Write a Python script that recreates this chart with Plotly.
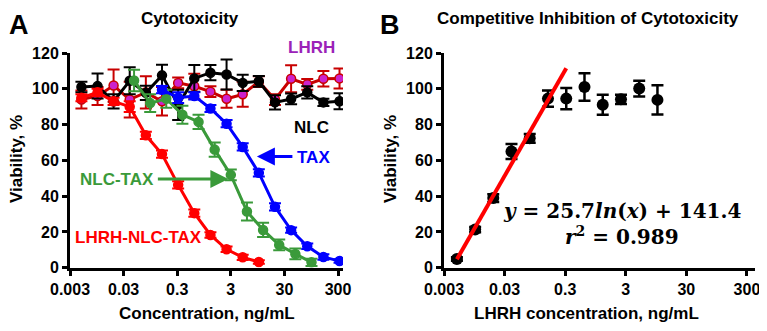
import math
import plotly.graph_objects as go

# ---------------- Panel A data ----------------
conc_grid = [0.0049, 0.0098, 0.0195, 0.039, 0.078, 0.156, 0.3125, 0.625, 1.25,
             2.5, 5, 10, 20, 40, 80, 160, 320]

nlc_conc = conc_grid
nlc_via = [101, 101.5, 93, 104.5, 97.7, 107.5, 91, 105.8, 109, 108, 103.3, 104.2,
           92.4, 94.3, 98, 92.4, 93]
nlc_err = [3, 7, 4, 7.5, 4, 6, 8.4, 7.5, 4.3, 8.4, 4.5, 3, 4, 3, 3.4, 2, 4.5]

lhrh_conc = conc_grid
lhrh_via = [94, 96, 101.8, 94, 98, 93, 103.3, 101.4, 98.4, 94.4, 96.9, 104, 94,
            105.6, 102.5, 105.6, 105.8]
lhrh_err = [5, 5, 9, 10, 9, 8, 3, 7, 3, 5, 7, 3, 3, 7.5, 3, 4.3, 5.6]

lnt_conc = [0.0049, 0.0098, 0.0195, 0.039, 0.078, 0.156, 0.3125, 0.625, 1.25, 2.5, 5, 10]
lnt_via = [95, 98, 93, 90, 74, 63.5, 46.3, 30.5, 18.3, 10.3, 5.8, 3.2]
lnt_err = [2, 2, 2, 3, 2, 2, 2, 2, 1.5, 1.5, 1.5, 1]

tax_conc = [0.156, 0.3125, 0.625, 1.25, 2.5, 5, 10, 20, 40, 80, 160, 320]
tax_via = [99.5, 95, 96, 89, 80.5, 67.5, 53, 34, 21, 12, 6, 3.7]
tax_err = [2, 3, 2, 2, 2, 2, 2, 2, 1.5, 1.5, 1.5, 1]

nt_conc = [0.047, 0.094, 0.1875, 0.375, 0.75, 1.5, 3, 6, 12, 24, 48, 96]
nt_via = [104.6, 92, 94.4, 85.5, 81.5, 66, 51.9, 31.4, 21.1, 12.7, 7.7, 3.0]
nt_err = [6, 5, 5, 5, 4, 4, 3, 5, 4, 3, 3, 2]

# ---------------- Panel B data ----------------
b_conc = [0.0049, 0.0098, 0.0195, 0.039, 0.078, 0.156, 0.3125, 0.625, 1.25, 2.5, 5, 10]
b_via = [4.9, 21.3, 38.9, 65, 72.3, 94.5, 94.5, 101, 91.1, 94.1, 100.1, 93.8]
b_err = [1, 1.5, 2.2, 4.2, 2.4, 4.5, 6, 7.7, 5.6, 2.6, 4.4, 8.2]
fit_slope = 25.7
fit_intercept = 141.4
fit_x = [0.0049, 0.3125]
fit_y = [fit_slope * math.log(v) + fit_intercept for v in fit_x]

tick_vals = [0.003, 0.03, 0.3, 3, 30, 300]
tick_text = ["0.003", "0.03", "0.3", "3", "30", "300"]
y_ticks = [0, 20, 40, 60, 80, 100, 120]

RED = "#ff0000"
DARKRED = "#c80000"
MAGENTA = "#cc22cc"
GREEN = "#3a9a3a"
BLUE = "#0000ff"
BLACK = "#000000"
PURPLE = "#9b22b8"

FONT = "Liberation Sans"

# the page body adds an 8 px offset; size the figure to fill the visible window
OFF = 8
W, H = 767 - OFF, 331 - OFF


def px(x):
    return (x - OFF) / W


def py(y):
    return (H - (y - OFF)) / H


fig = go.Figure()


def add_series(x, y, err, color, mcolor, xa, ya, msize=9, lw=3, mline=None):
    fig.add_trace(go.Scatter(
        x=x, y=y, mode="lines+markers", xaxis=xa, yaxis=ya,
        line=dict(color=color, width=lw),
        marker=dict(color=mcolor, size=msize,
                    line=dict(color=mline or mcolor, width=1.5)),
        error_y=dict(type="data", array=err, color=color, thickness=2, width=6),
        showlegend=False, hoverinfo="skip"))


add_series(lhrh_conc, lhrh_via, lhrh_err, DARKRED, MAGENTA, "x", "y", mline=DARKRED)
add_series(nlc_conc, nlc_via, nlc_err, BLACK, BLACK, "x", "y")
add_series(nt_conc, nt_via, nt_err, GREEN, GREEN, "x", "y")
add_series(tax_conc, tax_via, tax_err, BLUE, BLUE, "x", "y")
add_series(lnt_conc, lnt_via, lnt_err, RED, RED, "x", "y")

# Panel B
fig.add_trace(go.Scatter(
    x=b_conc, y=b_via, mode="markers", xaxis="x2", yaxis="y2",
    marker=dict(color=BLACK, size=12),
    error_y=dict(type="data", array=b_err, color=BLACK, thickness=2.5, width=6),
    showlegend=False, hoverinfo="skip"))
fig.add_trace(go.Scatter(
    x=fit_x, y=fit_y, mode="lines", xaxis="x2", yaxis="y2",
    line=dict(color=RED, width=4), showlegend=False, hoverinfo="skip"))

tickfont = dict(family=FONT, size=16, color="black", weight="bold")
ydom = [py(267.7), py(53)]

xcommon = dict(type="log", tickmode="array", tickvals=tick_vals, ticktext=tick_text,
               ticks="outside", ticklen=5, tickwidth=2.5, tickcolor="black",
               showline=True, linewidth=3, linecolor="black", showgrid=False,
               zeroline=False, tickfont=tickfont, automargin=False)
ycommon = dict(range=[0, 120], tickmode="array", tickvals=y_ticks,
               ticks="outside", ticklen=5, tickwidth=2.5, tickcolor="black",
               showline=True, linewidth=3, linecolor="black", showgrid=False,
               zeroline=False, tickfont=tickfont, automargin=False)

fig.update_layout(
    width=W, height=H, margin=dict(l=0, r=0, t=0, b=0, pad=0, autoexpand=False),
    paper_bgcolor="white", plot_bgcolor="white", showlegend=False,
    xaxis=dict(domain=[px(70), px(343)], range=[math.log10(0.003), 2.57],
               anchor="y", **xcommon),
    yaxis=dict(domain=ydom, anchor="x", **ycommon),
    xaxis2=dict(domain=[px(444), px(755)], range=[math.log10(0.003), 2.61],
                anchor="y2", **xcommon),
    yaxis2=dict(domain=ydom, anchor="x2", **ycommon),
)


def label(text, x, y, size, color="black", family=FONT, angle=0, bold=True):
    fig.add_annotation(text=text, x=px(x), y=py(y), xref="paper", yref="paper",
                       showarrow=False, textangle=angle, xanchor="center",
                       yanchor="middle", borderpad=0,
                       font=dict(family=family, size=size, color=color,
                                 weight="bold" if bold else "normal"))


label("A", 19, 25, 27)
label("B", 390, 25, 27)
label("Cytotoxicity", 190, 18, 17)
label("Competitive Inhibition of Cytotoxicity", 588, 18, 17)
label("Concentration, ng/mL", 207, 313, 17)
label("LHRH concentration, ng/mL", 586, 313, 17)
label("Viability, %", 16, 159, 17, angle=-90)
label("Viability, %", 390, 159, 17, angle=-90)

label("LHRH", 311, 48, 17, color=PURPLE)
label("NLC", 311, 127, 17)
label("TAX", 313, 157, 17, color=BLUE)
label("NLC-TAX", 117, 180, 17, color=GREEN)
label("LHRH-NLC-TAX", 138, 237, 17, color=RED)

label("<i>y</i> = 25.7<i>ln</i>(<i>x</i>) + 141.4", 622, 211, 20, family="DejaVu Serif")
label("<i>r</i><sup>2</sup> = 0.989", 622, 236, 20, family="DejaVu Serif")

# arrows
fig.add_annotation(x=math.log10(2.7), y=49.6, xref="x", yref="y", ax=-72, ay=0,
                   showarrow=True, arrowhead=2, arrowsize=1.2, arrowwidth=3,
                   arrowcolor=GREEN, text="")
fig.add_annotation(x=math.log10(9.2), y=62.2, xref="x", yref="y", ax=37, ay=0,
                   showarrow=True, arrowhead=2, arrowsize=1.2, arrowwidth=3,
                   arrowcolor=BLUE, text="")

fig.write_html("out.html")
